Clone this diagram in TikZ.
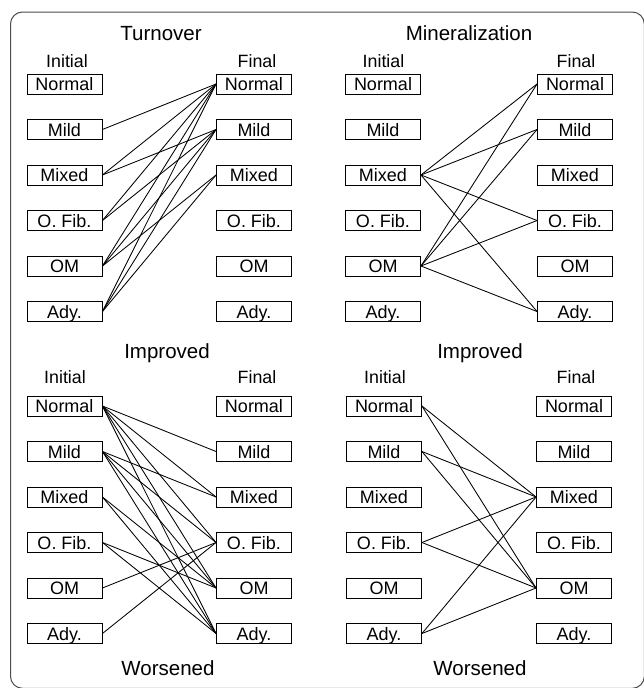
\documentclass[tikz,border=0pt]{standalone}
\usepackage{fontspec}
\setmainfont{Liberation Sans}
\newcommand\mkpanel[4]{%
  \foreach \t [count=\k] in {Normal,Mild,Mixed,O. Fib.,OM,Ady.}{
    \node[lab] (#1i\k) at (#2,{#4+(\k-1)*45.5}) {\t};
    \node[lab] (#1f\k) at (#3,{#4+(\k-1)*45.5}) {\t};
  }}
\begin{document}
\begin{tikzpicture}[x=1pt,y=-1pt,
  lab/.style={draw=black, line width=0.9pt, minimum width=75pt, minimum height=20pt,
    inner sep=0pt, text height=14pt, text depth=1pt, font=\fontsize{18}{20}\selectfont},
  hdr/.style={font=\fontsize{17.8}{20}\selectfont, inner sep=0pt, anchor=base},
  ttl/.style={font=\fontsize{20.5}{24}\selectfont, inner sep=0pt, anchor=base},
  link/.style={line width=0.85pt}]
\useasboundingbox (0,0) rectangle (644,688);
\draw[line width=1pt, draw=black!70, rounded corners=12pt] (10.5,12) rectangle (644.3,688.3);

% panels
\mkpanel{TL}{64.5}{254}{84}
\mkpanel{TR}{383}{575}{84}
\mkpanel{BL}{64.5}{254}{406}
\mkpanel{BR}{384}{574}{406}

% titles
\node[ttl] (t1) at (161,40) {Turnover};
\node[ttl] (t2) at (469,40) {Mineralization};
\node[ttl] (t3) at (167,358) {Improved};
\node[ttl] (t4) at (480,358) {Improved};
\node[ttl] (t5) at (168,675) {Worsened};
\node[ttl] (t6) at (480,675) {Worsened};

% headers
\node[hdr] (h1) at (67,67) {Initial};
\node[hdr] (h2) at (257,67) {Final};
\node[hdr] (h3) at (383.5,67) {Initial};
\node[hdr] (h4) at (576,67) {Final};
\node[hdr] (h5) at (65,383) {Initial};
\node[hdr] (h6) at (257,383) {Final};
\node[hdr] (h7) at (385,383) {Initial};
\node[hdr] (h8) at (576,383) {Final};

% connectors
\foreach \a/\b in {2/1,3/1,3/2,4/1,4/2,5/1,5/2,5/3,6/1,6/2,6/3}
  \draw[link] (TLi\a.east) -- (TLf\b.west);
\foreach \a/\b in {3/1,3/2,3/4,3/6,5/1,5/2,5/4,5/6}
  \draw[link] (TRi\a.east) -- (TRf\b.west);
\foreach \a/\b in {1/2,1/3,1/4,1/5,1/6,2/3,2/4,2/5,2/6,3/5,3/6,4/5,4/6,5/4,6/4}
  \draw[link] (BLi\a.east) -- (BLf\b.west);
\foreach \a/\b in {1/3,1/5,2/3,2/5,4/3,4/5,6/3,6/5}
  \draw[link] (BRi\a.east) -- (BRf\b.west);
\end{tikzpicture}
\end{document}
